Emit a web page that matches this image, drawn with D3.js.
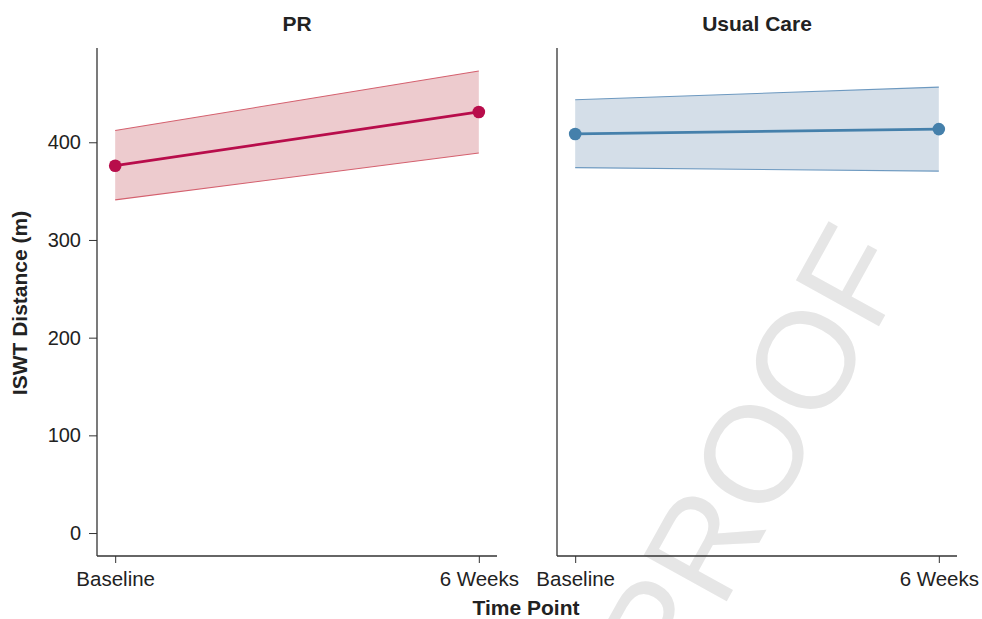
<!DOCTYPE html>
<html>
<head>
<meta charset="utf-8">
<script src="https://cdn.jsdelivr.net/npm/d3@7"></script>
<style>
  html, body { margin: 0; padding: 0; background: #fff; }
  svg { display: block; font-family: "Liberation Sans", Arial, Helvetica, sans-serif; }
</style>
</head>
<body>
<svg id="chart" width="982" height="619"></svg>
<script>
// Time points on the x axis
const timePoints = ["Baseline", "6 Weeks"];

// Panel names
const groups = ["PR", "Usual Care"];

// Mean ISWT distance (m) with 95% confidence bounds, per group
const prMean  = [376, 431];
const prLower = [341, 389];
const prUpper = [412, 473];

const ucMean  = [408.5, 413.5];
const ucLower = [374, 370.5];
const ucUpper = [443.5, 456.5];

// y-axis tick values
const yTicks = [0, 100, 200, 300, 400];

const panels = [
  { name: groups[0], mean: prMean, lower: prLower, upper: prUpper,
    line: "#b80d4b", fill: "#edcbce", edge: "#d4606e", left: 97 },
  { name: groups[1], mean: ucMean, lower: ucLower, upper: ucUpper,
    line: "#4580ab", fill: "#d4dee8", edge: "#6d99c0", left: 557 }
];

const svg = d3.select("#chart");
const panelWidth = 400;
const plotTop = 48, plotBottom = 556;

const y = d3.scaleLinear().domain([-23.5, 496.5]).range([plotBottom, plotTop]);

// "PROOF" stamp across the right panel
svg.append("text")
  .attr("transform", "translate(752,453) rotate(-61)")
  .attr("text-anchor", "middle")
  .attr("dy", "0.36em")
  .attr("font-size", 138)
  .attr("fill", "#e6e6e6")
  .text("PROOF");

panels.forEach((p, i) => {
  const x = d3.scalePoint().domain(timePoints)
    .range([p.left, p.left + panelWidth]).padding(0.05);

  const g = svg.append("g");
  const rows = timePoints.map((t, k) => ({ t, m: p.mean[k], lo: p.lower[k], hi: p.upper[k] }));

  // confidence band
  g.append("path").datum(rows)
    .attr("d", d3.area().x(d => x(d.t)).y0(d => y(d.lo)).y1(d => y(d.hi)))
    .attr("fill", p.fill);
  ["lo", "hi"].forEach(k => {
    g.append("path").datum(rows)
      .attr("d", d3.line().x(d => x(d.t)).y(d => y(d[k])))
      .attr("fill", "none").attr("stroke", p.edge).attr("stroke-width", 1.1);
  });

  // mean line and points
  g.append("path").datum(rows)
    .attr("d", d3.line().x(d => x(d.t)).y(d => y(d.m)))
    .attr("fill", "none").attr("stroke", p.line).attr("stroke-width", 2.8);
  g.selectAll("circle").data(rows).join("circle")
    .attr("cx", d => x(d.t)).attr("cy", d => y(d.m)).attr("r", 6.3)
    .attr("fill", p.line);

  // x axis
  const xa = g.append("g").attr("transform", `translate(0,${plotBottom})`)
    .call(d3.axisBottom(x).tickSize(7).tickPadding(8));
  xa.select(".domain").attr("d", `M${p.left},0H${p.left + panelWidth}`)
    .attr("stroke", "#333").attr("stroke-width", 1.3);
  xa.selectAll(".tick line").attr("stroke", "#333");
  xa.selectAll(".tick text").attr("font-size", 20.5).attr("fill", "#222")
    .attr("font-family", "Liberation Sans, Arial, sans-serif");

  // y axis
  const ya = g.append("g").attr("transform", `translate(${p.left},0)`)
    .call(d3.axisLeft(y).tickValues(yTicks).tickSize(8).tickPadding(8));
  ya.select(".domain").attr("d", `M0,${plotTop}V${plotBottom}`)
    .attr("stroke", "#333").attr("stroke-width", 1.3);
  ya.selectAll(".tick line").attr("stroke", "#333");
  ya.selectAll(".tick text").attr("font-size", 20).attr("fill", "#222")
    .attr("font-family", "Liberation Sans, Arial, sans-serif");
  if (i > 0) ya.selectAll(".tick").remove();

  // panel title
  svg.append("text")
    .attr("x", p.left + panelWidth / 2).attr("y", 31)
    .attr("text-anchor", "middle")
    .attr("font-size", 21).attr("font-weight", "bold").attr("fill", "#222")
    .text(p.name);
});

// axis titles
svg.append("text")
  .attr("transform", "translate(27,303) rotate(-90)")
  .attr("text-anchor", "middle")
  .attr("font-size", 21).attr("font-weight", "bold").attr("fill", "#222")
  .text("ISWT Distance (m)");

svg.append("text")
  .attr("x", 526).attr("y", 615)
  .attr("text-anchor", "middle")
  .attr("font-size", 21).attr("font-weight", "bold").attr("fill", "#222")
  .text("Time Point");
</script>
</body>
</html>
